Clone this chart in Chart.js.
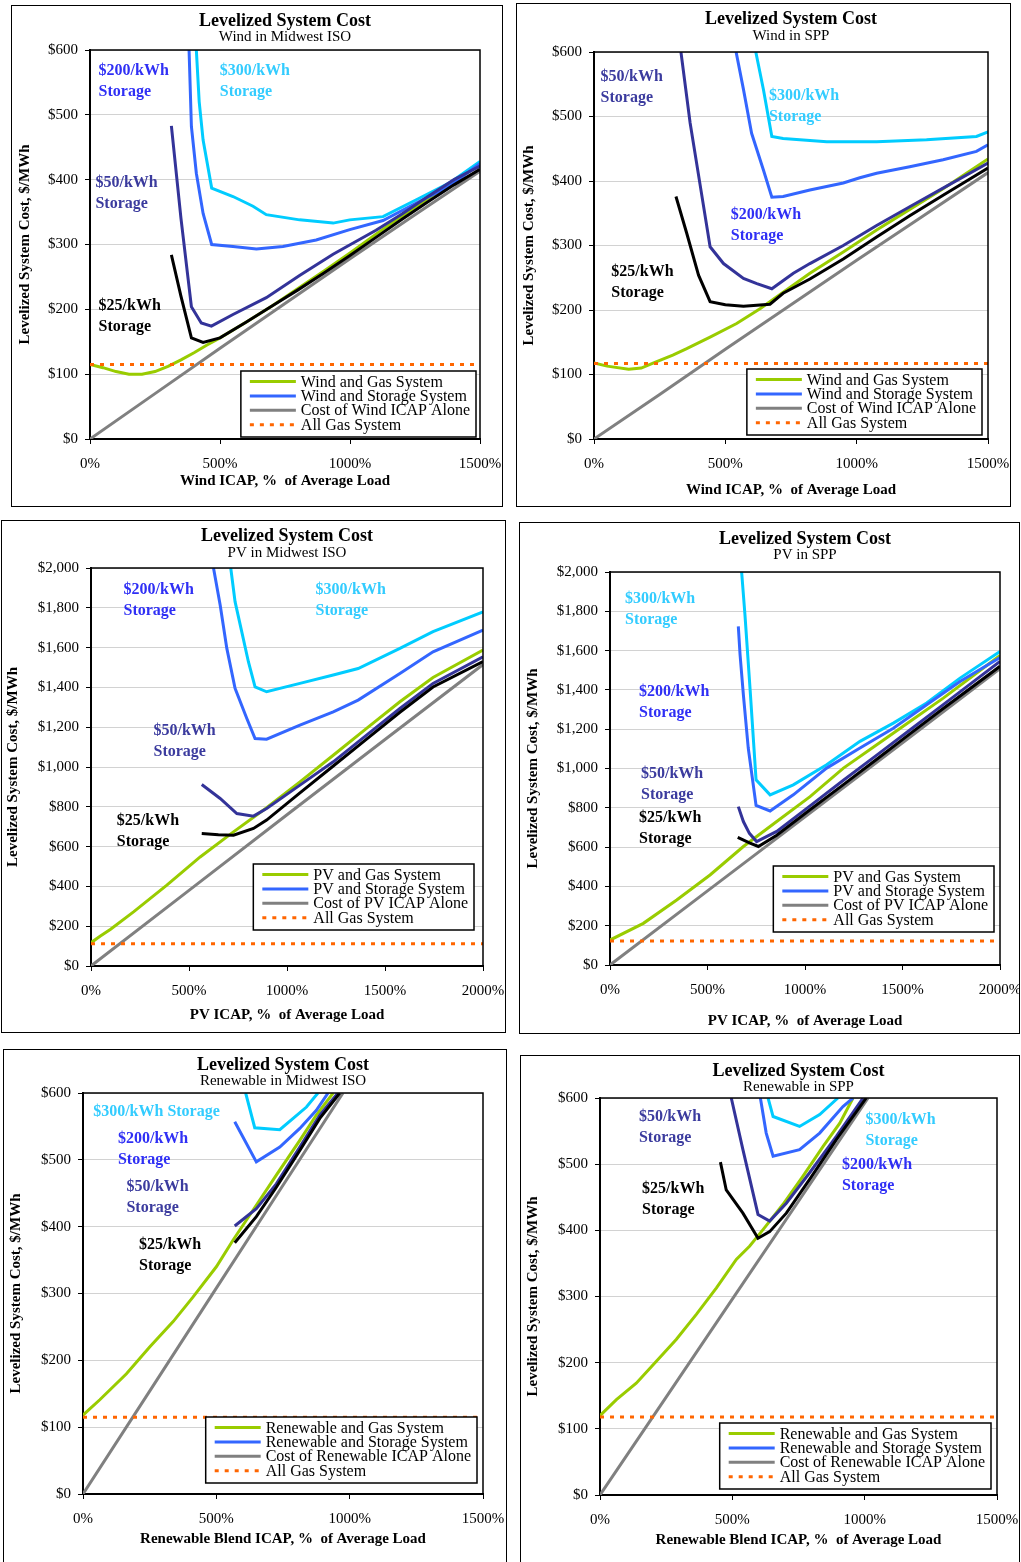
<!DOCTYPE html>
<html>
<head>
<meta charset="utf-8">
<title>Levelized System Cost</title>
<script src="https://cdn.jsdelivr.net/npm/chart.js@4.4.1/dist/chart.umd.min.js"></script>
<style>
    html, body { margin: 0; padding: 0; background: #fff; overflow: hidden; }
    body { width: 1021px; height: 1562px; position: relative; }
    .panel { position: absolute; border: 1px solid #000; box-sizing: border-box; }
    .panel canvas { position: absolute; left: -1px; top: -1px; }
</style>
</head>
<body>
<script>
// ---- data (x = ICAP % of average load, y = $/MWh) ----

// Wind in Midwest ISO
const windMisoGas = [[0,115],[50,110],[100,104],[150,100],[200,100],[250,104],[300,112],[350,122],[400,133],[450,145],[500,156],[600,180],[700,205],[800,232],[900,259],[1000,287],[1100,316],[1200,344],[1300,371],[1400,398],[1500,423]];
const windMisoAlone = [[0,0],[250,70],[500,140],[750,209],[1000,278],[1250,346],[1500,413]];
const windMiso25 = [[313,284],[350,220],[390,156],[435,149],[500,156],[600,180],[700,205],[800,230],[900,256],[1000,283],[1100,311],[1200,339],[1300,366],[1400,392],[1500,416]];
const windMiso50 = [[313,483],[350,340],[390,204],[428,179],[467,174],[550,192],[678,218],[806,252],[935,285],[1100,322],[1200,347],[1300,374],[1400,400],[1500,421]];
const windMiso200 = [[381,600],[390,482],[409,410],[435,348],[468,300],[550,297],[640,293],[742,297],[870,307],[999,323],[1127,337],[1255,364],[1383,390],[1500,425]];
const windMiso300 = [[409,600],[420,520],[435,461],[468,387],[550,374],[627,359],[678,346],[806,338],[935,333],[999,338],[1127,343],[1255,369],[1383,395],[1500,428]];
const windMisoAllGas = 115;

// Wind in SPP
const windSppGas = [[0,118],[50,113],[132,108],[180,110],[227,118],[300,130],[353,140],[442,158],[543,179],[632,202],[695,220],[822,257],[949,290],[1076,324],[1202,356],[1329,388],[1500,434]];
const windSppAlone = [[0,0],[250,69],[500,139],[750,208],[1000,277],[1250,345],[1500,413]];
const windSpp25 = [[312,376],[353,319],[398,254],[442,213],[500,208],[569,206],[670,209],[720,226],[822,248],[949,279],[1076,313],[1202,346],[1329,378],[1500,420]];
const windSpp50 = [[331,600],[366,490],[404,394],[442,298],[493,272],[569,249],[620,241],[677,233],[759,257],[822,272],[949,300],[1076,331],[1202,360],[1329,389],[1500,428]];
const windSpp200 = [[541,600],[569,542],[600,474],[645,417],[677,375],[720,376],[822,386],[949,397],[1012,405],[1076,412],[1202,422],[1329,433],[1456,446],[1500,456]];
const windSpp300 = [[616,600],[645,542],[677,469],[720,466],[886,461],[1076,461],[1266,464],[1456,469],[1500,476]];
const windSppAllGas = 117;

// PV in Midwest ISO
const pvMisoGas = [[0,117],[48,151],[100,185],[217,272],[387,406],[557,548],[727,674],[896,795],[1066,925],[1236,1059],[1406,1194],[1576,1328],[1745,1450],[2000,1588]];
const pvMisoAlone = [[0,0],[500,380],[1000,760],[1500,1138],[2000,1515]];
const pvMiso25 = [[565,666],[650,660],[727,657],[829,691],[896,733],[1066,870],[1236,1005],[1406,1140],[1576,1275],[1745,1402],[2000,1530]];
const pvMiso50 = [[565,912],[659,842],[744,766],[829,753],[896,791],[1066,909],[1236,1026],[1406,1160],[1576,1294],[1745,1420],[2000,1554]];
const pvMiso200 = [[625,2000],[659,1814],[693,1596],[735,1395],[795,1244],[837,1143],[896,1140],[1066,1210],[1236,1277],[1363,1336],[1576,1470],[1745,1579],[2000,1688]];
const pvMiso300 = [[713,2000],[735,1831],[769,1680],[803,1529],[837,1403],[896,1378],[1066,1420],[1236,1462],[1363,1495],[1576,1596],[1745,1680],[2000,1780]];
const pvMisoAllGas = 112;

// PV in SPP
const pvSppGas = [[0,127],[171,212],[342,331],[513,458],[684,603],[855,730],[1026,857],[1197,1002],[1368,1121],[1538,1239],[1709,1358],[2000,1575]];
const pvSppAlone = [[0,0],[500,377],[1000,754],[1500,1131],[2000,1508]];
const pvSpp25 = [[655,649],[718,620],[761,603],[855,660],[1026,790],[1197,918],[1368,1047],[1538,1176],[1709,1305],[2000,1520]];
const pvSpp50 = [[658,806],[684,730],[715,670],[752,628],[855,680],[1026,810],[1197,940],[1368,1068],[1538,1196],[1709,1325],[2000,1545]];
const pvSpp200 = [[658,1723],[667,1579],[684,1375],[709,1104],[749,812],[821,784],[940,866],[1111,1002],[1282,1104],[1453,1205],[1624,1324],[1795,1443],[2000,1565]];
const pvSpp300 = [[675,2000],[692,1783],[718,1409],[749,942],[821,866],[940,917],[1111,1019],[1282,1138],[1453,1231],[1624,1333],[1795,1460],[2000,1596]];
const pvSppAllGas = 122;

// Renewable blend in Midwest ISO
const renMisoGas = [[0,118],[63,141],[163,180],[250,220],[338,258],[413,295],[500,340],[563,380],[638,425],[725,477],[813,529],[875,567],[938,600]];
const renMisoAlone = [[0,0],[250,154],[500,308],[750,462],[975,600]];
const renMiso25 = [[569,376],[650,415],[725,459],[813,514],[888,562],[963,600]];
const renMiso50 = [[569,401],[650,427],[725,464],[813,519],[888,567],[956,600]];
const renMiso200 = [[569,557],[650,497],[738,519],[813,547],[875,574],[919,600]];
const renMiso300 = [[610,600],[644,548],[738,545],[788,562],[838,579],[881,600]];
const renMisoAllGas = 115;

// Renewable blend in SPP
const renSppGas = [[0,120],[62,144],[137,169],[213,202],[288,235],[364,273],[440,313],[515,356],[565,376],[616,401],[691,439],[767,482],[843,527],[906,562],[956,600]];
const renSppAlone = [[0,0],[250,148],[500,296],[750,444],[1013,600]];
const renSpp25 = [[455,503],[477,461],[540,426],[597,388],[641,398],[704,426],[792,477],[893,537],[1006,600]];
const renSpp50 = [[496,600],[540,522],[597,424],[641,414],[704,441],[792,487],[893,542],[994,600]];
const renSpp200 = [[606,600],[628,547],[654,512],[754,522],[830,547],[918,587],[956,600]];
const renSpp300 = [[635,600],[654,572],[754,557],[830,575],[899,600]];
const renSppAllGas = 118;

// ---- styling ----
const COLORS = {
    gas: '#99CC00', alone: '#808080', allGas: '#FF6600',
    s25: '#000000', s50: '#333399', s200: '#3366FF', s300: '#00CCFF'
};
const NOTE_COLORS = { s25: '#000000', s50: '#3b3b9e', s200: '#2f2ff5', s300: '#33CCFF' };
const SERIF = '"Liberation Serif", "Times New Roman", serif';

Chart.defaults.font.family = SERIF;
Chart.defaults.color = '#000';

const toXY = arr => arr.map(p => ({ x: p[0], y: p[1] }));

// draws the top and right edges of the plot frame
const framePlugin = {
    id: 'frame',
    afterDatasetsDraw(chart) {
        const { ctx, chartArea: a } = chart;
        ctx.save();
        ctx.strokeStyle = '#000';
        ctx.lineWidth = 1.5;
        ctx.beginPath();
        ctx.moveTo(a.left, a.top);
        ctx.lineTo(a.right, a.top);
        ctx.lineTo(a.right, a.bottom);
        ctx.stroke();
        ctx.restore();
    }
};

// "$xx/kWh Storage" notes placed in data coordinates
const notesPlugin = {
    id: 'notes',
    afterDatasetsDraw(chart, args, opts) {
        const { ctx, scales } = chart;
        ctx.save();
        ctx.font = 'bold 16px ' + SERIF;
        ctx.textAlign = 'left';
        ctx.textBaseline = 'alphabetic';
        (opts.items || []).forEach(n => {
            const px = scales.x.getPixelForValue(n.x);
            const py = scales.y.getPixelForValue(n.y);
            ctx.fillStyle = NOTE_COLORS[n.key];
            n.lines.forEach((t, i) => ctx.fillText(t, px, py + i * 21));
        });
        ctx.restore();
    }
};

// boxed legend sitting inside the plot, bottom right
const boxLegendPlugin = {
    id: 'boxLegend',
    afterDraw(chart, args, opts) {
        const { ctx, chartArea: a } = chart;
        const entries = opts.entries || [];
        ctx.save();
        ctx.font = '16px ' + SERIF;
        const textW = Math.max(...entries.map(e => ctx.measureText(e.text).width));
        const w = 9 + 46 + 5 + textW + 6;
        const h = 66;
        const x = a.right - opts.rightGap - w;
        const y = a.bottom - opts.bottomGap - h;
        ctx.fillStyle = '#fff';
        ctx.fillRect(x, y, w, h);
        ctx.strokeStyle = '#000';
        ctx.lineWidth = 1.5;
        ctx.strokeRect(x, y, w, h);
        entries.forEach((e, i) => {
            const base = y + 15.5 + i * 14.4;
            ctx.strokeStyle = e.color;
            ctx.lineWidth = 3;
            ctx.setLineDash(e.dash || []);
            ctx.beginPath();
            ctx.moveTo(x + 9, base - 5);
            ctx.lineTo(x + 55, base - 5);
            ctx.stroke();
            ctx.setLineDash([]);
            ctx.fillStyle = '#000';
            ctx.textBaseline = 'alphabetic';
            ctx.fillText(e.text, x + 60, base);
        });
        ctx.restore();
    }
};

function makePanel(p) {
    const holder = document.createElement('div');
    holder.className = 'panel';
    holder.style.left = p.box.x + 'px';
    holder.style.top = p.box.y + 'px';
    holder.style.width = p.box.w + 'px';
    holder.style.height = p.box.h + 'px';
    const canvas = document.createElement('canvas');
    canvas.width = p.box.w;
    canvas.height = p.box.h;
    canvas.style.width = p.box.w + 'px';
    canvas.style.height = p.box.h + 'px';
    holder.appendChild(canvas);
    document.body.appendChild(holder);

    const line = (label, data, color, extra) => Object.assign({
        label, data, borderColor: color, backgroundColor: color,
        borderWidth: 3, pointRadius: 0, tension: 0, fill: false
    }, extra || {});

    const s = p.series;
    const datasets = [
        line('All Gas System', [{ x: 0, y: s.allGas }, { x: p.xMax, y: s.allGas }], COLORS.allGas, { borderDash: [4, 6] }),
        line('$25/kWh Storage', toXY(s.s25), COLORS.s25),
        line('$50/kWh Storage', toXY(s.s50), COLORS.s50),
        line('$200/kWh Storage', toXY(s.s200), COLORS.s200),
        line('$300/kWh Storage', toXY(s.s300), COLORS.s300),
        line(p.tech + ' and Gas System', toXY(s.gas), COLORS.gas),
        line('Cost of ' + p.tech + ' ICAP Alone', toXY(s.alone), COLORS.alone)
    ];

    const bottom = p.box.y + p.box.h;
    new Chart(canvas, {
        type: 'line',
        data: { datasets },
        plugins: [framePlugin, notesPlugin, boxLegendPlugin],
        options: {
            responsive: false,
            animation: false,
            events: [],
            layout: {
                padding: {
                    left: 0,
                    right: p.box.x + p.box.w - p.area.r,
                    top: p.titleY - p.box.y - 9,
                    bottom: bottom - p.xTitleY - 9
                }
            },
            plugins: {
                legend: { display: false },
                tooltip: { enabled: false },
                title: {
                    display: true, text: 'Levelized System Cost', fullSize: false,
                    font: { size: 18, weight: 'bold', lineHeight: 1 },
                    padding: { top: 0, bottom: 0 }, color: '#000'
                },
                subtitle: {
                    display: true, text: p.subtitle, fullSize: false,
                    font: { size: 15, lineHeight: 1 },
                    padding: { top: 0, bottom: p.area.t - p.titleY - 24 }, color: '#000'
                },
                notes: { items: p.notes },
                boxLegend: {
                    rightGap: p.legendGap[0], bottomGap: p.legendGap[1],
                    entries: [
                        { text: p.tech + ' and Gas System', color: COLORS.gas },
                        { text: p.tech + ' and Storage System', color: COLORS.s200 },
                        { text: 'Cost of ' + p.tech + ' ICAP Alone', color: COLORS.alone },
                        { text: 'All Gas System', color: COLORS.allGas, dash: [4, 6] }
                    ]
                }
            },
            scales: {
                x: {
                    type: 'linear', min: 0, max: p.xMax,
                    afterFit: sc => {
                        sc.height = p.xTitleY + 9 - p.area.b;
                        // end labels may spill into the layout padding
                        sc.paddingLeft = 0;
                        sc.paddingRight = 0;
                    },
                    ticks: {
                        stepSize: 500, padding: 11, color: '#000',
                        font: { size: 15, lineHeight: 1.2 },
                        callback: v => v + '%'
                    },
                    grid: { drawOnChartArea: false, drawTicks: true, tickLength: 5, tickColor: '#000' },
                    border: { color: '#000', width: 2 },
                    title: {
                        display: true, text: p.xTitle, color: '#000',
                        font: { size: 15, weight: 'bold', lineHeight: 1.2 },
                        padding: { top: 0, bottom: 0 }
                    }
                },
                y: {
                    type: 'linear', min: 0, max: p.yMax,
                    afterFit: sc => { sc.width = p.area.l - p.box.x; },
                    ticks: {
                        stepSize: p.yStep, padding: 7, color: '#000',
                        font: { size: 15, lineHeight: 1.2 },
                        callback: v => '$' + v.toLocaleString('en-US')
                    },
                    grid: { color: '#d2d2d2', lineWidth: 1, drawTicks: true, tickLength: 5, tickColor: '#000' },
                    border: { color: '#000', width: 2 },
                    title: {
                        display: true, text: 'Levelized System Cost, $/MWh', color: '#000',
                        font: { size: 15, weight: 'bold', lineHeight: 1.2 },
                        padding: { top: p.yTitleX - p.box.x - 9, bottom: 0 }
                    }
                }
            }
        }
    });
}

const storageNote = (key, label, x, y) => ({ key, x, y, lines: [label, 'Storage'] });

makePanel({
    tech: 'Wind', subtitle: 'Wind in Midwest ISO', xTitle: 'Wind ICAP, %  of Average Load',
    xMax: 1500, yMax: 600, yStep: 100,
    series: { gas: windMisoGas, alone: windMisoAlone, s25: windMiso25, s50: windMiso50, s200: windMiso200, s300: windMiso300, allGas: windMisoAllGas },
    notes: [storageNote('s200', '$200/kWh', 33, 561), storageNote('s300', '$300/kWh', 499, 561),
            storageNote('s50', '$50/kWh', 21, 388), storageNote('s25', '$25/kWh', 33, 199)],
    box: { x: 11, y: 5, w: 492, h: 502 }, area: { l: 90, t: 50, r: 480, b: 439 },
    titleY: 21, xTitleY: 481.5, yTitleX: 25, legendGap: [4, 2]
});

makePanel({
    tech: 'Wind', subtitle: 'Wind in SPP', xTitle: 'Wind ICAP, %  of Average Load',
    xMax: 1500, yMax: 600, yStep: 100,
    series: { gas: windSppGas, alone: windSppAlone, s25: windSpp25, s50: windSpp50, s200: windSpp200, s300: windSpp300, allGas: windSppAllGas },
    notes: [storageNote('s50', '$50/kWh', 25, 555), storageNote('s300', '$300/kWh', 666, 526),
            storageNote('s200', '$200/kWh', 521, 341), storageNote('s25', '$25/kWh', 66, 253)],
    box: { x: 516, y: 3, w: 495, h: 504 }, area: { l: 594, t: 52, r: 988, b: 439 },
    titleY: 19.5, xTitleY: 490, yTitleX: 529, legendGap: [6, 4]
});

makePanel({
    tech: 'PV', subtitle: 'PV in Midwest ISO', xTitle: 'PV ICAP, %  of Average Load',
    xMax: 2000, yMax: 2000, yStep: 200,
    series: { gas: pvMisoGas, alone: pvMisoAlone, s25: pvMiso25, s50: pvMiso50, s200: pvMiso200, s300: pvMiso300, allGas: pvMisoAllGas },
    notes: [storageNote('s200', '$200/kWh', 166, 1868), storageNote('s300', '$300/kWh', 1146, 1868),
            storageNote('s50', '$50/kWh', 319, 1160), storageNote('s25', '$25/kWh', 132, 711)],
    box: { x: 1, y: 520, w: 505, h: 513 }, area: { l: 91, t: 568, r: 483, b: 966 },
    titleY: 536.7, xTitleY: 1015.5, yTitleX: 13.3, legendGap: [9, 36]
});

makePanel({
    tech: 'PV', subtitle: 'PV in SPP', xTitle: 'PV ICAP, %  of Average Load',
    xMax: 2000, yMax: 2000, yStep: 200,
    series: { gas: pvSppGas, alone: pvSppAlone, s25: pvSpp25, s50: pvSpp50, s200: pvSpp200, s300: pvSpp300, allGas: pvSppAllGas },
    notes: [storageNote('s300', '$300/kWh', 77, 1842), storageNote('s200', '$200/kWh', 149, 1370),
            storageNote('s50', '$50/kWh', 159, 951), storageNote('s25', '$25/kWh', 149, 727)],
    box: { x: 519, y: 522, w: 501, h: 512 }, area: { l: 610, t: 572, r: 1000, b: 965 },
    titleY: 539, xTitleY: 1021.3, yTitleX: 533.3, legendGap: [6, 33]
});

makePanel({
    tech: 'Renewable', subtitle: 'Renewable in Midwest ISO', xTitle: 'Renewable Blend ICAP, %  of Average Load',
    xMax: 1500, yMax: 600, yStep: 100,
    series: { gas: renMisoGas, alone: renMisoAlone, s25: renMiso25, s50: renMiso50, s200: renMiso200, s300: renMiso300, allGas: renMisoAllGas },
    notes: [{ key: 's300', x: 38, y: 565, lines: ['$300/kWh Storage'] }, storageNote('s200', '$200/kWh', 131, 525),
            storageNote('s50', '$50/kWh', 163, 454), storageNote('s25', '$25/kWh', 210, 367)],
    box: { x: 3, y: 1049, w: 504, h: 526 }, area: { l: 83, t: 1093, r: 483, b: 1494 },
    titleY: 1065, xTitleY: 1538.8, yTitleX: 16, legendGap: [6, 11]
});

makePanel({
    tech: 'Renewable', subtitle: 'Renewable in SPP', xTitle: 'Renewable Blend ICAP, %  of Average Load',
    xMax: 1500, yMax: 600, yStep: 100,
    series: { gas: renSppGas, alone: renSppAlone, s25: renSpp25, s50: renSpp50, s200: renSpp200, s300: renSpp300, allGas: renSppAllGas },
    notes: [storageNote('s50', '$50/kWh', 147, 565), storageNote('s300', '$300/kWh', 1003, 561),
            storageNote('s200', '$200/kWh', 914, 492), storageNote('s25', '$25/kWh', 159, 456)],
    box: { x: 520, y: 1055, w: 500, h: 520 }, area: { l: 600, t: 1098, r: 997, b: 1495 },
    titleY: 1071, xTitleY: 1540.3, yTitleX: 533.3, legendGap: [6, 6]
});
</script>
</body>
</html>
